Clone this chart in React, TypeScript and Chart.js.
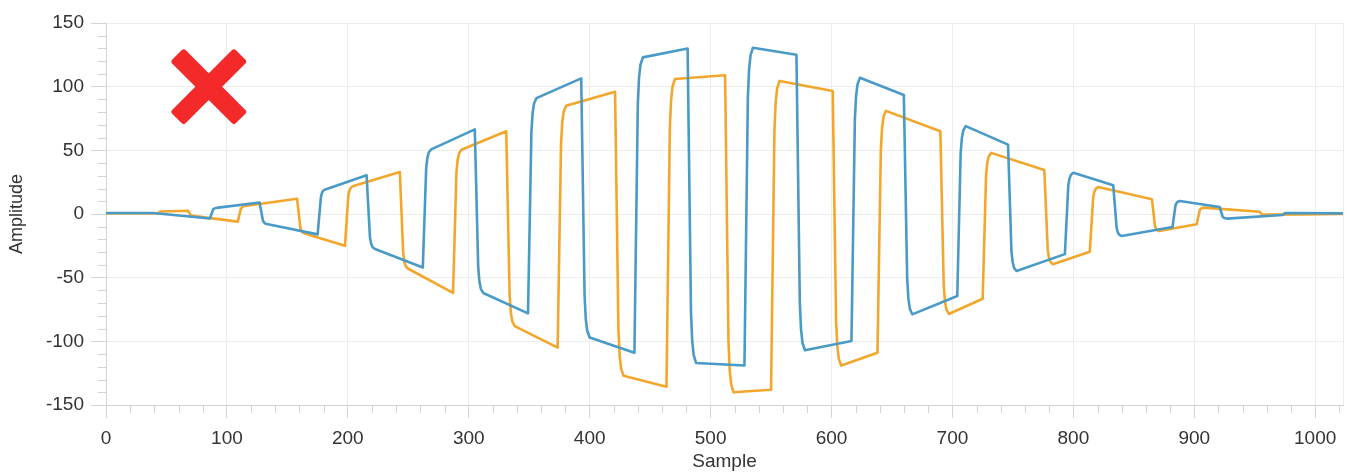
import React, { useEffect, useRef } from 'react';
import { Chart, registerables } from 'chart.js';

Chart.register(...registerables);

// ---- data ----
const sampleMin = 0;
const sampleMax = 1023;
const ampMin = -150;
const ampMax = 150;
const xTickValues = [0, 100, 200, 300, 400, 500, 600, 700, 800, 900, 1000];
const yTickStep = 50;

const blueX = [
  0, 39, 86, 88.5, 90, 93,
  127, 129.8, 130.8, 132, 134,
  175, 177.8, 178.8, 180, 182,
  215.5, 218.3, 219.3, 220.5, 222.5,
  262, 264.8, 265.8, 267, 269,
  305, 307.8, 308.8, 310, 312,
  349, 351.8, 352.8, 354, 356,
  393, 395.8, 396.8, 398, 400,
  437, 439.8, 440.8, 442, 444,
  481, 483.8, 484.8, 486, 488,
  528, 530.8, 531.8, 533, 535,
  571, 573.8, 574.8, 576, 578,
  616.5, 619.3, 620.3, 621.5, 623.5,
  659.8, 662.6, 663.6, 664.8, 666.8,
  704, 706.8, 707.8, 709, 711,
  746, 748.8, 749.8, 751, 753,
  793, 795.8, 796.8, 798, 800,
  833, 835.8, 836.8, 838, 840,
  882, 884.5, 885.5, 886.5, 888,
  921, 923.5, 924.5, 925.5, 927,
  973, 975, 1023,
];
const blueY = [
  0.8, 0.8, -3.5, 3.5, 4.5, 5,
  9, -5.3, -6.8, -7.6, -8,
  -16, 13.8, 17, 18.6, 19.5,
  30.4, -18.2, -23.4, -26.1, -27.5,
  -42, 36, 44.3, 48.5, 50.8,
  66.5, -41.4, -53, -58.8, -62,
  -78, 64, 79.2, 86.8, 91,
  106.5, -64.4, -82.8, -91.9, -97,
  -109, 85.9, 106.8, 117.2, 123,
  130, -77.5, -99.7, -110.8, -117,
  -119, 90.7, 113.1, 124.4, 130.6,
  125, -69.9, -90.8, -101.2, -107,
  -99.7, 73.9, 92.5, 101.8, 107,
  93.5, -51.2, -66.7, -74.5, -78.8,
  -64.4, 47.7, 59.7, 65.7, 69,
  54.5, -28.9, -37.9, -42.3, -44.8,
  -31.5, 22.2, 27.9, 30.8, 32.4,
  22.5, -10.9, -14.5, -16.3, -17.3,
  -10.2, 7, 8.8, 9.7, 10.2,
  5.5, -2.2, -3, -3.4, -3.6,
  -0.8, 0.8, 0.5,
];

const orangeX = [
  0, 43, 45, 68, 70, 72,
  109, 111.5, 112.5, 113.5, 115,
  158, 160.8, 161.8, 163, 165,
  197.6, 200.4, 201.4, 202.6, 204.6,
  243, 245.8, 246.8, 248, 250,
  287, 289.8, 290.8, 292, 294,
  331, 333.8, 334.8, 336, 338,
  373.5, 376.3, 377.3, 378.5, 380.5,
  421, 423.8, 424.8, 426, 428,
  463.5, 466.3, 467.3, 468.5, 470.5,
  512, 514.8, 515.8, 517, 519,
  550, 552.8, 553.8, 555, 557,
  601, 603.8, 604.8, 606, 608,
  638, 640.8, 641.8, 643, 645,
  690, 692.8, 693.8, 695, 697,
  725, 727.8, 728.8, 730, 732,
  776, 778.8, 779.8, 781, 783,
  813.6, 816.4, 817.4, 818.6, 820.6,
  865, 867.5, 868.5, 869.5, 871,
  902, 904.5, 905.5, 906.5, 908,
  954, 956, 958, 990, 1023,
];
const orangeY = [
  0.5, 0.5, 2, 2.5, -1, -1.5,
  -6, 4, 5.3, 5.9, 6.3,
  12, -11.1, -13.6, -14.8, -15.5,
  -25, 14.5, 18.7, 20.8, 22,
  33, -30.8, -37.7, -41.1, -43,
  -62, 32.5, 42.6, 47.7, 50.5,
  65, -63.5, -77.3, -84.2, -88,
  -105, 54.6, 71.7, 80.3, 85,
  96, -91.3, -111.4, -121.4, -127,
  -135.6, 67.3, 89.1, 100, 106,
  109, -100.2, -122.6, -133.8, -140,
  -138, 65.7, 87.5, 98.4, 104.5,
  96.6, -84.5, -103.9, -113.6, -119,
  -109, 50.6, 67.7, 76.3, 81,
  65, -55.5, -68.5, -74.9, -78.5,
  -66.6, 29.7, 40, 45.1, 48,
  34.6, -27.6, -34.3, -37.6, -39.5,
  -29.6, 13.1, 17.6, 19.9, 21.2,
  11.5, -9.4, -11.7, -12.8, -13.4,
  -8, 3, 4.2, 4.7, 5,
  1.8, -0.3, -0.5, -0.3, 0,
];

// decoration anchor (red cross), in data units
const markerX = 85;
const markerY = 100;

// ---- styles ----
const FONT = '"Liberation Sans", Arial, Helvetica, sans-serif';
const BLUE = '#4a9ac8';
const ORANGE = '#f3a62c';
const TEXT = '#333333';
const GRID = '#ededed';
const TICK = '#d4d4d4';
const BORDER = '#d4d4d4';
const RED = '#f42a2a';

const toPoints = (xs: number[], ys: number[]) => xs.map((x, i) => ({ x, y: ys[i] }));

const decorPlugin = {
  id: 'decor',
  afterDraw(chart: any) {
    const { ctx, chartArea, scales } = chart;
    const xs = scales.x;
    const ys = scales.y;
    ctx.save();
    ctx.strokeStyle = TICK;
    ctx.lineWidth = 1;
    ctx.beginPath();
    for (let v = 20; v <= sampleMax; v += 20) {
      if (v % 100 === 0) continue;
      const px = Math.round(xs.getPixelForValue(v)) + 0.5;
      ctx.moveTo(px, chartArea.bottom);
      ctx.lineTo(px, chartArea.bottom + 8);
    }
    for (let v = ampMin + 10; v < ampMax; v += 10) {
      if (v % 50 === 0) continue;
      const py = Math.round(ys.getPixelForValue(v)) + 0.5;
      ctx.moveTo(chartArea.left - 8, py);
      ctx.lineTo(chartArea.left, py);
    }
    ctx.stroke();

    const cx = xs.getPixelForValue(markerX);
    const cy = ys.getPixelForValue(markerY);
    ctx.fillStyle = RED;
    ctx.translate(cx, cy);
    for (const a of [Math.PI / 4, -Math.PI / 4]) {
      ctx.save();
      ctx.rotate(a);
      ctx.beginPath();
      if ((ctx as any).roundRect) (ctx as any).roundRect(-45, -9.5, 90, 19, 3);
      else ctx.rect(-45, -9.5, 90, 19);
      ctx.fill();
      ctx.restore();
    }
    ctx.restore();
  },
};

export default function App() {
  const canvasRef = useRef<HTMLCanvasElement | null>(null);

  useEffect(() => {
    if (!canvasRef.current) return;
    const chart = new Chart(canvasRef.current, {
      type: 'line',
      data: {
        datasets: [
          {
            label: 'Blue',
            data: toPoints(blueX, blueY),
            borderColor: BLUE,
            borderWidth: 2.6,
            pointRadius: 0,
            fill: false,
            tension: 0,
            borderJoinStyle: 'round',
          },
          {
            label: 'Orange',
            data: toPoints(orangeX, orangeY),
            borderColor: ORANGE,
            borderWidth: 2.6,
            pointRadius: 0,
            fill: false,
            tension: 0,
            borderJoinStyle: 'round',
          },
        ],
      },
      options: {
        animation: false,
        responsive: false,
        parsing: false as any,
        layout: { padding: { top: 23, right: 12, left: 0, bottom: 0 } },
        plugins: {
          legend: { display: false },
          tooltip: { enabled: false },
        },
        scales: {
          x: {
            type: 'linear',
            min: sampleMin,
            max: sampleMax,
            afterBuildTicks: (s: any) => {
              s.ticks = [...xTickValues.map((v) => ({ value: v })), { value: sampleMax }];
            },
            afterFit: (s: any) => {
              s.height = 68;
            },
            ticks: {
              autoSkip: false,
              maxRotation: 0,
              padding: 9,
              color: TEXT,
              font: { family: FONT, size: 19 },
              callback: (v: any) => (Number(v) % 100 === 0 ? String(v) : ''),
            },
            grid: {
              color: GRID,
              tickLength: 13,
              tickColor: (c: any) => (c.tick && c.tick.value === sampleMax ? 'rgba(0,0,0,0)' : TICK),
            },
            border: { color: BORDER },
            title: {
              display: true,
              text: 'Sample',
              color: TEXT,
              font: { family: FONT, size: 19, lineHeight: 1 },
              padding: { top: 0, bottom: 2 },
            },
          },
          y: {
            type: 'linear',
            min: ampMin,
            max: ampMax,
            afterFit: (s: any) => {
              s.width = 106;
            },
            ticks: {
              stepSize: yTickStep,
              padding: 7,
              color: TEXT,
              font: { family: FONT, size: 19 },
            },
            grid: {
              color: GRID,
              tickLength: 15,
              tickColor: TICK,
            },
            border: { color: BORDER },
            title: {
              display: true,
              text: 'Amplitude',
              color: TEXT,
              font: { family: FONT, size: 18, lineHeight: 1 },
              padding: { top: 8, bottom: 0 },
            },
          },
        },
      } as any,
      plugins: [decorPlugin],
    });
    return () => chart.destroy();
  }, []);

  return (
    <div style={{ position: 'absolute', left: 0, top: 0, width: 1355, height: 473, background: '#fff' }}>
      <canvas ref={canvasRef} width={1355} height={473} style={{ display: 'block' }} />
    </div>
  );
}
